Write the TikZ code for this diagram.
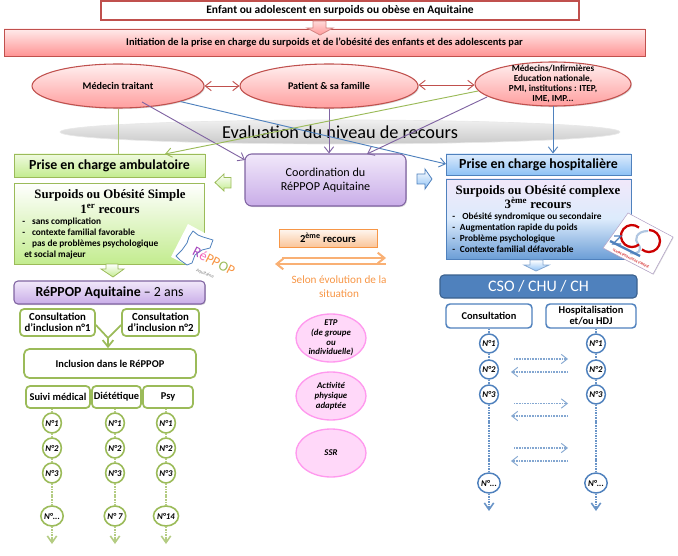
\documentclass[tikz,border=0pt]{standalone}
\usepackage{fontspec}
\setmainfont{Carlito}
\newfontfamily\srf{Liberation Serif}
\usetikzlibrary{arrows.meta,shadows,calc,shapes.geometric}
\definecolor{cred}{HTML}{C0504D}
\definecolor{cgreen}{HTML}{9BBB59}
\definecolor{cpurple}{HTML}{8064A2}
\definecolor{cblue}{HTML}{4F81BD}
\definecolor{corange}{HTML}{F79646}
\definecolor{cpink}{HTML}{FF99EE}
\definecolor{clime}{HTML}{C3EC8F}
\definecolor{climel}{HTML}{F0FAE0}
\definecolor{csky}{HTML}{8EC1F5}
\definecolor{cskyl}{HTML}{DCEBFC}
\definecolor{cvio}{HTML}{C9ADE8}
\definecolor{cviol}{HTML}{F1E8FA}
\newcommand\fs[2]{\fontsize{#1}{#2}\selectfont}
\tikzset{
  x=0.75pt,y=-0.75pt,
  span/.style n args={4}{at={({(#1+#3)/2},{(#2+#4)/2})},minimum width={(#3-#1)*0.75pt},minimum height={(#4-#2)*0.75pt}},
  base/.style={inner sep=0pt,align=center,text=black},
  shad/.style={drop shadow={opacity=.3,shadow xshift=.7pt,shadow yshift=-.8pt}},
  redbox/.style={base,draw=cred,line width=1pt,font=\bfseries\fs{7.8}{9}},
  redell/.style={redbox,ellipse,line width=.8pt,top color=red!6,bottom color=red!38!white,shad,font=\bfseries\fs{7.6}{9}},
  amb/.style={base,draw=cgreen,line width=.7pt,top color=climel,bottom color=clime,shad,font=\bfseries\fs{10.4}{12}},
  hosp/.style={base,draw=cblue,line width=.7pt,top color=cskyl,bottom color=csky,shad,font=\bfseries\fs{10.4}{12}},
  purp/.style={base,draw=cpurple,line width=.8pt,rounded corners=5pt,top color=cviol,bottom color=cvio,shad},
  srftitle/.style={inner sep=0pt,align=center,font=\srf\bfseries\fs{9.6}{11}},
  lst/.style={inner sep=0pt,align=left,anchor=north west,font=\bfseries\fs{7}{8.25}},
  gbox/.style={base,draw=cgreen,line width=1.3pt,fill=white,rounded corners=3pt,font=\bfseries\fs{7.8}{8.25}},
  bbox/.style={base,draw=cblue,line width=1.1pt,fill=white,rounded corners=3pt,font=\bfseries\fs{7.8}{8.25}},
  gbub/.style={base,ellipse,draw=cgreen,line width=1.2pt,fill=white,font=\bfseries\itshape\fs{6.6}{8}},
  bbub/.style={base,ellipse,draw=cblue,line width=1.1pt,fill=white,font=\bfseries\itshape\fs{6.6}{8}},
  pbub/.style={base,ellipse,draw=cpink,line width=1pt,fill=cpink!38!white},
  ptxt/.style={inner sep=0pt,align=center,font=\bfseries\itshape\fs{6.6}{7.3}},
  gdot/.style={draw=cgreen!75!white,line width=1.3pt,dash pattern=on 1.2pt off .7pt},
  bdot/.style={draw=cblue!85!white,line width=1.3pt,dash pattern=on 1.2pt off .7pt},
  gdend/.style={gdot,-{Straight Barb[length=5pt,width=7pt,line width=1.2pt]}},
  bdend/.style={bdot,-{Straight Barb[length=5pt,width=7pt,line width=1.2pt]}},
  thin arrow/.style={line width=.7pt,-{Straight Barb[length=4.5pt,width=7pt]}},
  hx/.style={draw=cblue!70!white,line width=.8pt,dash pattern=on .8pt off .4pt,-{Straight Barb[length=4.5pt,width=7pt,line width=.7pt]}},
  block/.style={line width=.6pt,line join=miter},
}
\begin{document}
\begin{tikzpicture}
\useasboundingbox (0,0) rectangle (678,556);

% top
\node[redbox,span={101}{1}{579}{20},fill=white,line width=1.2pt,font=\bfseries\fs{8.6}{10}] (top) {Enfant ou adolescent en surpoids ou obèse en Aquitaine};
\node[redbox,span={4}{29}{645}{56},line width=.7pt,top color=red!8,bottom color=red!42!white,shad] (init) {Initiation de la prise en charge du surpoids et de l'obésité des enfants et des adolescents par};
\draw[block,draw=cred!70!white,top color=red!15,bottom color=red!40!white] (313,21) -- (326,21) -- (326,28) -- (333,28) -- (320,35) -- (307,28) -- (313,28) -- cycle;

% ellipses
\node[redell,span={32}{64}{204}{108}] (med) {Médecin traitant};
\node[redell,span={240}{64}{418}{108}] (pat) {Patient \& sa famille};
\node[redell,span={475}{62}{631}{106}] (inst) {};
\node[inner sep=0pt,align=center,font=\bfseries\fs{6.9}{7.4}] (insttxt) at (553,84) {Médecins/Infirmières\\Education nationale,\\PMI, institutions : ITEP,\\IME, IMP...};
\draw[{Straight Barb[length=4.5pt,width=7pt]}-{Straight Barb[length=4.5pt,width=7pt]},cred,line width=.7pt] (med) -- (pat);
\draw[{Straight Barb[length=4.5pt,width=7pt]}-{Straight Barb[length=4.5pt,width=7pt]},cred,line width=.7pt] (pat.east |- 0,85) -- (inst.west |- 0,85);

% evaluation band
\node[base,ellipse,span={60}{120}{620}{144},top color=gray!12,bottom color=gray!42,draw=gray!18,line width=.5pt] (eval) {};
\node[inner sep=0pt,font=\fs{13.7}{16}] (evaltxt) at (340,132) {Evaluation du niveau de recours};

% level boxes
\node[amb,span={14}{154}{205}{177}] (ambu) {Prise en charge ambulatoire};
\node[purp,span={245}{154}{406}{206},font=\fs{9.1}{10.8}] (coord) {Coordination du\\RéPPOP Aquitaine};
\node[hosp,span={446}{154}{631}{175}] (hop) {Prise en charge hospitalière};

% connectors from the three actors
\coordinate (medP) at (142,102);
\coordinate (coordW) at (245,160);
\coordinate (instG) at (478,91);
\coordinate (ambuT) at (165,154);
\coordinate (instP) at (487,97);
\coordinate (coordT) at (367,154);
\coordinate (hopW) at (446,164);
\draw[cgreen!85!white,line width=.7pt] (med.south) -- (med.south |- ambu.north);
\draw[cpurple,thin arrow] (medP) -- (coordW);
\draw[cblue,thin arrow] (med.-14.5) -- (hopW);
\draw[cpurple,thin arrow] (pat.south) -- (pat.south |- coord.north);
\draw[cgreen,thin arrow] (instG) -- (ambuT);
\draw[cpurple,thin arrow] (instP) -- (coordT);
\draw[cblue,thin arrow] (inst.south |- 0,106) -- (inst.south |- hop.north);

% side block arrows
\draw[block,draw=cgreen,top color=white,bottom color=clime] (215,182.5) -- (224,174) -- (224,177.5) -- (231,177.5) -- (231,188) -- (224,188) -- (224,191) -- cycle;
\draw[block,draw=cblue,top color=white,bottom color=csky] (432,179) -- (425,169) -- (425,174) -- (417,174) -- (417,184) -- (425,184) -- (425,189) -- cycle;

% left panel
\node[base,draw=cgreen,line width=.7pt,span={14}{183}{204}{264},top color=white,bottom color=clime,shad] (simple) {};
\node[srftitle] (simpletxt) at (110,201.5) {Surpoids ou Obésité Simple\\1\textsuperscript{er} recours};
\node[lst] (simplelist) at (22,217.5) {-\hspace{5.2pt}sans complication\\-\hspace{5.2pt}contexte familial favorable\\-\hspace{5.2pt}pas de problèmes psychologique\\\hspace{1.5pt}et social majeur};
\draw[block,draw=cgreen,top color=white,bottom color=clime] (106,264) -- (118,264) -- (118,269) -- (124,269) -- (113,277) -- (101,269) -- (106,269) -- cycle;

% reppop logo
\fill[white] (188,224) -- (236,250) -- (222,282) -- (171,257) -- cycle;
\draw[cblue,line width=.6pt,line join=round] (193,231) -- (189,237) -- (187,243) -- (182,250) -- (176,256) -- (180,260) -- (187,265) -- (192,263) -- (195,255) -- (202,250) -- (210,248) -- (213,240) -- (203,237) -- (198,235) -- cycle;
\node[inner sep=0pt,rotate=-27,font=\fs{10.5}{12}] (logoa) at (214,261) {\textcolor{cpurple!70!magenta}{R}\textcolor{magenta!60!white}{é}\textcolor{corange}{PP}\textcolor{cgreen}{O}\textcolor{corange}{P}};
\node[inner sep=0pt,rotate=-22,font=\fs{3.6}{4},text=gray] (logob) at (205,273.5) {Aquitaine};

% reppop column
\node[purp,span={14}{281}{205}{304},rounded corners=3pt,font=\fs{10.4}{12}] (rep) {\textbf{RéPPOP Aquitaine} -- 2 ans};
\node[gbox,span={20}{309}{95}{336},font=\bfseries\fs{8.1}{8.25}] (c1) {Consultation\\d'inclusion n°1};
\node[gbox,span={122}{309}{199}{336},font=\bfseries\fs{8.1}{8.25}] (c2) {Consultation\\d'inclusion n°2};
\node[gbox,span={24}{349}{196}{378},rounded corners=4pt] (incl) {Inclusion dans le RéPPOP};
\coordinate (cv) at (108,338);
\draw[cgreen,line width=1.3pt] (c1.east |- 0,325) -- (cv);
\draw[cgreen,line width=1.3pt] (c2.west |- 0,325) -- (cv);
\draw[cgreen,line width=1.3pt,-{Straight Barb[length=5pt,width=8pt]}] (cv) -- (cv |- incl.north);
\node[gbox,span={26}{386}{90}{408}] (sm) {Suivi médical};
\node[gbox,span={92}{386}{141}{408}] (di) {Diététique};
\node[gbox,span={143}{386}{193}{408}] (py) {Psy};

\foreach \nm/\cx/\hd/\ltxt in {a/52/sm/{N°...},b/115/di/{N° 7},c/166/py/{N°14}}{
  \node[gbub,span={\cx-15}{413}{\cx+15}{433}] (\nm1) {N°1};
  \node[gbub,span={\cx-15}{438}{\cx+15}{458}] (\nm2) {N°2};
  \node[gbub,span={\cx-15}{463}{\cx+15}{483}] (\nm3) {N°3};
  \node[gbub,span={\cx-15}{506}{\cx+15}{526}] (\nm4) {\ltxt};
  \coordinate (\nm5) at (\cx,544);
  \draw[gdot] (\hd.south -| \nm1.north) -- (\nm1.north);
  \draw[gdot] (\nm1) -- (\nm2);
  \draw[gdot] (\nm2) -- (\nm3);
  \draw[gdot] (\nm3) -- (\nm4);
  \draw[gdend] (\nm4) -- (\nm5);
}

% middle
\node[base,draw=corange,line width=.6pt,span={279}{229}{377}{247},top color=corange!8,bottom color=corange!55!white,shad,font=\bfseries\fs{8}{9}] (deux) {2\textsuperscript{ème} recours};
\coordinate (oa) at (282,258);
\coordinate (ob) at (386,258);
\coordinate (oc) at (386,264);
\coordinate (od) at (275,264);
\draw[corange!75!white,line width=1.5pt,-{Straight Barb[length=5pt,width=8pt]}] (oa) -- (ob);
\draw[corange!75!white,line width=1.5pt,-{Straight Barb[length=5pt,width=8pt]}] (oc) -- (od);
\node[inner sep=0pt,align=center,text=corange,font=\fs{8.4}{10}] (selon) at (339,286.5) {Selon évolution de la\\situation};

\node[pbub,span={296}{314}{366}{362}] (p1) {};
\node[ptxt] (p1t) at (331,338) {ETP\\(de groupe\\ou\\individuelle)};
\node[pbub,span={296}{372}{366}{420}] (p2) {};
\node[ptxt] (p2t) at (331,396) {Activité\\physique\\adaptée};
\node[pbub,span={296}{429}{366}{477}] (p3) {};
\node[ptxt] (p3t) at (331,453) {SSR};

% right panel
\node[base,draw=cblue,line width=.7pt,span={446}{179}{631}{259},top color=cviol,bottom color=cblue!55!csky,middle color=cskyl,shad] (comp) {};
\node[srftitle] (comptxt) at (538,197) {Surpoids ou Obésité complexe\\3\textsuperscript{ème} recours};
\node[lst] (complist) at (452,212.5) {-\hspace{5.4pt}Obésité syndromique ou secondaire\\-\hspace{3.6pt}Augmentation rapide du poids\\-\hspace{3.6pt}Problème psychologique\\-\hspace{3.6pt}Contexte familial défavorable};
\draw[block,draw=cblue!70!white,top color=white,bottom color=csky] (530,260) -- (543,260) -- (543,265) -- (549,265) -- (536,271) -- (524,265) -- (530,265) -- cycle;

% css logo
\fill[white,draw=cpurple!60!white,line width=.4pt,drop shadow={opacity=.3,shadow xshift=.5pt,shadow yshift=-.5pt}] (603,248) -- (628,213) -- (673,237) -- (653,274) -- cycle;
\draw[cblue!45!white,line width=1.6pt] (648,231) .. controls (636,231) and (634,240) .. (638,244) .. controls (643,250) and (638,255) .. (630,253);
\draw[red!80!black,line width=1.7pt] (639,227.6) arc[start angle=-50,end angle=-310,radius=11];
\draw[red!80!black,line width=1.7pt] (649,230) arc[start angle=-90,end angle=130,radius=11];
\draw[cblue,line width=.9pt] (614,236) -- (621,236) -- (613,244) -- (621,244);
\draw[cblue,line width=1.8pt] (610,241) -- (640,256);
\node[inner sep=0pt,rotate=-26,text=red!80!black,font=\bfseries\fs{2.2}{3}] (logoc) at (631,258.5) {CENTRE SPÉCIALISÉ DE L'OBÉSITÉ};

% cso
\node[base,draw=cblue!75!black,line width=.8pt,fill=cblue,rounded corners=3pt,span={440}{275}{637}{298},text=white,font=\fs{12}{13}] (cso) {CSO / CHU / CH};
\node[bbox,span={446}{304}{532}{328}] (cons) {Consultation};
\node[bbox,span={546}{304}{636}{328}] (hosb) {Hospitalisation\\et/ou HDJ};

\foreach \nm/\cx/\hd in {l/489/cons,r/596/hosb}{
  \node[bbub,span={\cx-15}{334}{\cx+15}{353}] (\nm1) {N°1};
  \node[bbub,span={\cx-15}{360}{\cx+15}{379}] (\nm2) {N°2};
  \node[bbub,span={\cx-15}{385}{\cx+15}{404}] (\nm3) {N°3};
  \node[bbub,span={\cx-15}{473}{\cx+15}{493}] (\nm4) {N°...};
  \coordinate (\nm5) at (\cx,511);
  \draw[bdot] (\hd.south -| \nm1.north) -- (\nm1.north);
  \draw[bdot] (\nm1) -- (\nm2);
  \draw[bdot] (\nm2) -- (\nm3);
  \draw[bdot] (\nm3) -- (\nm4);
  \draw[bdend] (\nm4) -- (\nm5);
}

\foreach \ya/\yb/\i in {359/372/1,403.5/416/2,448/461/3}{
  \coordinate (xa\i) at (514,\ya);
  \coordinate (xb\i) at (568,\ya);
  \coordinate (xc\i) at (568,\yb);
  \coordinate (xd\i) at (511,\yb);
  \draw[hx] (xa\i) -- (xb\i);
  \draw[hx] (xc\i) -- (xd\i);
}
\end{tikzpicture}
\end{document}
